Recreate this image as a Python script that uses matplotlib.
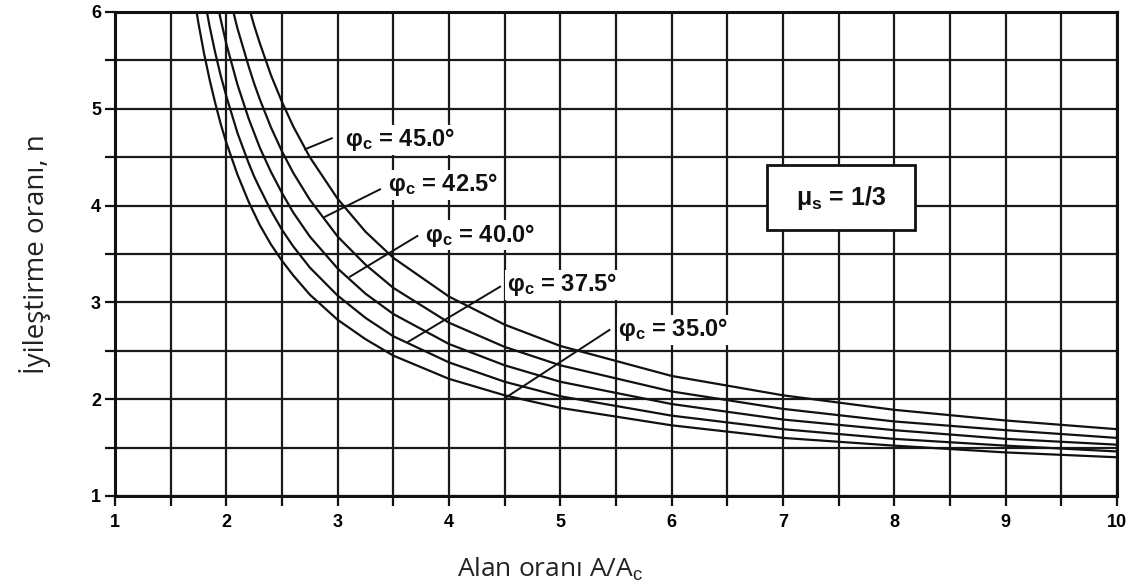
import matplotlib
matplotlib.use("Agg")
import matplotlib.pyplot as plt
from matplotlib.patches import Rectangle

# curves: area ratio A/Ac -> improvement factor n
x_35 = [1.7, 1.75, 1.8, 1.85, 1.9, 1.95, 2.0, 2.1, 2.2, 2.25, 2.3, 2.4, 2.5, 2.6, 2.75,
        3.0, 3.25, 3.5, 4.0, 4.5, 5.0, 6.0, 7.0, 8.0, 9.0, 10.0]
n_35 = [6.23, 5.88, 5.57, 5.30, 5.06, 4.84, 4.65, 4.32, 4.04, 3.92, 3.80, 3.60, 3.43, 3.28, 3.08,
        2.82, 2.62, 2.45, 2.21, 2.04, 1.91, 1.73, 1.60, 1.52, 1.45, 1.40]

x_375 = [1.8, 1.85, 1.9, 1.95, 2.0, 2.1, 2.2, 2.25, 2.3, 2.4, 2.5, 2.6, 2.75,
         3.0, 3.25, 3.5, 4.0, 4.5, 5.0, 6.0, 7.0, 8.0, 9.0, 10.0]
n_375 = [6.16, 5.85, 5.58, 5.34, 5.13, 4.75, 4.44, 4.30, 4.18, 3.95, 3.75, 3.58, 3.36,
         3.07, 2.84, 2.65, 2.38, 2.18, 2.03, 1.83, 1.69, 1.59, 1.52, 1.46]

x_40 = [1.9, 1.95, 2.0, 2.1, 2.2, 2.25, 2.3, 2.4, 2.5, 2.6, 2.75,
        3.0, 3.25, 3.5, 4.0, 4.5, 5.0, 6.0, 7.0, 8.0, 9.0, 10.0]
n_40 = [6.19, 5.92, 5.67, 5.25, 4.90, 4.75, 4.60, 4.35, 4.13, 3.93, 3.68,
        3.35, 3.09, 2.88, 2.57, 2.35, 2.18, 1.95, 1.79, 1.68, 1.59, 1.53]

x_425 = [2.0, 2.05, 2.1, 2.2, 2.25, 2.3, 2.4, 2.5, 2.6, 2.75,
         3.0, 3.25, 3.5, 4.0, 4.5, 5.0, 6.0, 7.0, 8.0, 9.0, 10.0]
n_425 = [6.31, 6.06, 5.83, 5.44, 5.26, 5.10, 4.81, 4.56, 4.34, 4.06,
         3.68, 3.39, 3.15, 2.79, 2.54, 2.35, 2.08, 1.90, 1.77, 1.68, 1.60]

x_45 = [2.2, 2.25, 2.3, 2.4, 2.5, 2.6, 2.75,
        3.0, 3.25, 3.5, 4.0, 4.5, 5.0, 6.0, 7.0, 8.0, 9.0, 10.0]
n_45 = [6.06, 5.86, 5.68, 5.35, 5.07, 4.82, 4.50,
        4.07, 3.73, 3.46, 3.06, 2.77, 2.55, 2.24, 2.04, 1.89, 1.78, 1.69]

curve_labels = ["45.0", "42.5", "40.0", "37.5", "35.0"]

x_ticks = [1, 1.5, 2, 2.5, 3, 3.5, 4, 4.5, 5, 5.5, 6, 6.5, 7, 7.5, 8, 8.5, 9, 9.5, 10]
x_tick_labels = ["1", "", "2", "", "3", "", "4", "", "5", "", "6", "", "7", "", "8", "", "9", "", "10"]
y_ticks = [1, 1.5, 2, 2.5, 3, 3.5, 4, 4.5, 5, 5.5, 6]
y_tick_labels = ["1", "", "2", "", "3", "", "4", "", "5", "", "6"]

plt.rcParams["mathtext.fontset"] = "custom"
plt.rcParams["mathtext.rm"] = "Liberation Sans"
plt.rcParams["mathtext.bf"] = "Liberation Sans:bold"
plt.rcParams["mathtext.it"] = "Liberation Sans:italic"

fig = plt.figure(figsize=(11.32, 5.88), dpi=100)
ax = fig.add_axes([0.1016, 0.1565, 0.8851, 0.8231])

for xs, ns in [(x_35, n_35), (x_375, n_375), (x_40, n_40), (x_425, n_425), (x_45, n_45)]:
    ax.plot(xs, ns, color="#111111", lw=1.6)

ax.set_xlim(1, 10)
ax.set_ylim(1, 6)
ax.set_xticks(x_ticks)
ax.set_xticklabels(x_tick_labels)
ax.set_yticks(y_ticks)
ax.set_yticklabels(y_tick_labels)
ax.grid(True, color="#1a1a1a", lw=1.6)
for s in ax.spines.values():
    s.set_linewidth(2.2)
    s.set_color("#111111")
ax.tick_params(direction="out", length=7, width=1.6, color="#111111")
ax.tick_params(axis="x", pad=6)
ax.tick_params(axis="y", pad=3)
for t in ax.get_xticklabels() + ax.get_yticklabels():
    t.set_fontweight("bold")
    t.set_fontsize(13)
    t.set_family("Liberation Sans")

# labels with leader lines (start near text, end on curve)
leaders = [((2.947, 4.695), (2.707, 4.582), (3.066, 4.678)),
           ((3.381, 4.168), (2.887, 3.885), (3.453, 4.213)),
           ((3.716, 3.686), (3.111, 3.266), (3.785, 3.696)),
           ((4.459, 3.162), (3.635, 2.594), (4.519, 3.180)),
           ((5.441, 2.715), (4.504, 2.012), (5.519, 2.715))]
for lab, (p0, p1, pt) in zip(curve_labels, leaders):
    ax.plot([p0[0], p1[0]], [p0[1], p1[1]], color="#111111", lw=1.4)
    ax.text(pt[0], pt[1], "φ$_\\mathbf{c}$ = " + lab + "°", fontsize=17, fontweight="bold",
            family="Liberation Sans", ha="left", va="center", color="#111111",
            bbox=dict(facecolor="white", edgecolor="none", pad=1))

ax.add_patch(Rectangle((6.858, 3.748), 1.33, 0.672, facecolor="white",
                       edgecolor="#111111", lw=2, zorder=3))
ax.text(7.523, 4.08, "μ$_\\mathbf{s}$ = 1/3", fontsize=18, fontweight="bold",
        family="Liberation Sans", ha="center", va="center", color="#111111", zorder=4)

fig.text(0.031, 0.568, "İyileştirme oranı, n", rotation=90, ha="center", va="center",
         fontsize=20, family="Open Sans", color="#222222")
fig.text(0.486, 0.031, "Alan oranı A/A$_\\mathrm{c}$", ha="center", va="center",
         fontsize=19, family="Open Sans", color="#222222")

fig.savefig("out.png", dpi=100)
